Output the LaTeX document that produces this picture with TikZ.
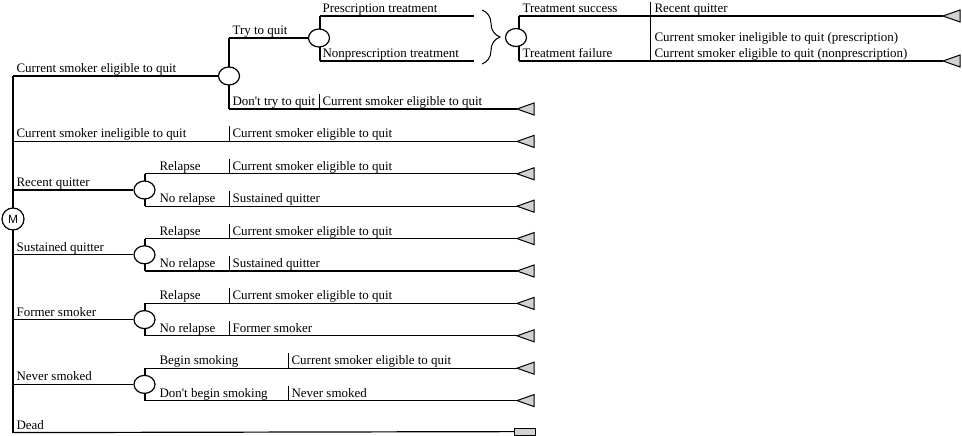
\documentclass[tikz,border=0pt]{standalone}
\usepackage{fontspec}
\setmainfont{Liberation Serif}
\newfontfamily\lblserif{Liberation Serif}
\newfontfamily\msans{Liberation Sans}
\usetikzlibrary{shapes.geometric,decorations.pathreplacing}
\definecolor{termgray}{gray}{0.82}
\newcommand\mktri[1]{\draw[termtri] (#1) -- ++(17,-6) -- ++(0,12) -- cycle;}
\begin{document}
\begin{tikzpicture}[x=1bp,y=-1bp, line width=1.2bp,
  lbl/.style={anchor=base west, inner sep=0pt, font=\lblserif\fontsize{13}{15}\selectfont},
  chance/.style={draw, fill=white, ellipse, minimum width=21bp, minimum height=18bp, inner sep=0pt},
  markov/.style={draw, fill=white, circle, minimum size=22bp, inner sep=0pt, font=\msans\fontsize{12}{14}\selectfont},
  termtri/.style={draw, line width=1bp, fill=termgray, line join=miter},
  sepline/.style={line width=1bp},
  bracestyle/.style={line width=1bp, decorate, decoration={brace, amplitude=18bp}}]
\useasboundingbox (0,0) rectangle (962,436);

% ---------- spine ----------
\coordinate (sTop) at (13,76);
\coordinate (sBot) at (13,432.6);
\draw (sTop) -- (sBot);

% ---------- row 1: current smoker eligible ----------
\coordinate (c1t) at (229,38);
\coordinate (c1b) at (229,109);
\draw (c1t) -- (c1b);
\node[chance] (c1) at (229,76) {};
\draw (sTop) -- (c1);
\node[lbl] (l1) at (16,72.5) {Current smoker eligible to quit};

% try to quit
\coordinate (c2t) at (320,16);
\coordinate (c2b) at (320,61);
\draw (c2t) -- (c2b);
\node[chance] (c2) at (319,38) {};
\draw (c1t) -- (c2);
\node[lbl] (l2) at (232,34.5) {Try to quit};
\coordinate (p1e) at (474,16);
\coordinate (p2e) at (474,61);
\draw (c2t) -- (p1e);
\draw (c2b) -- (p2e);
\node[lbl] (l3) at (322,12.5) {Prescription treatment};
\node[lbl] (l4) at (322,57.5) {Nonprescription treatment};

% brace and treatment outcome
\coordinate (br1) at (482,10);
\coordinate (br2) at (482,64);
\draw[bracestyle] (br1) -- (br2);
\coordinate (c3t) at (519,16);
\coordinate (c3b) at (519,61);
\draw (c3t) -- (c3b);
\node[chance] (c3) at (516,37.5) {};
\coordinate (t1) at (943,16);
\coordinate (t2) at (943,61);
\draw (c3t) -- (t1);
\draw (c3b) -- (t2);
\mktri{t1}
\mktri{t2}
\coordinate (s0t) at (650,2);
\coordinate (s0b) at (650,61);
\draw[sepline] (s0t) -- (s0b);
\node[lbl] (l5) at (522,12.5) {Treatment success};
\node[lbl] (l6) at (522,57.5) {Treatment failure};
\node[lbl] (l7) at (654,12.5) {Recent quitter};
\node[lbl] (l8) at (654,41.5) {Current smoker ineligible to quit (prescription)};
\node[lbl] (l9) at (654,57.5) {Current smoker eligible to quit (nonprescription)};

% don't try to quit
\coordinate (t3) at (517,109);
\draw (c1b) -- (t3);
\mktri{t3}
\coordinate (s1t) at (319,94);
\coordinate (s1b) at (319,109);
\draw[sepline] (s1t) -- (s1b);
\node[lbl] (l10) at (232,105.5) {Don't try to quit};
\node[lbl] (l11) at (322,105.5) {Current smoker eligible to quit};

% ---------- row 2: current smoker ineligible ----------
\coordinate (r2s) at (13,141.4);
\coordinate (t4) at (517,141.4);
\draw (r2s) -- (t4);
\mktri{t4}
\coordinate (s2t) at (229,126.4);
\coordinate (s2b) at (229,141.4);
\draw[sepline] (s2t) -- (s2b);
\node[lbl] (l12) at (16,137.9) {Current smoker ineligible to quit};
\node[lbl] (l13) at (232,137.9) {Current smoker eligible to quit};

% ---------- row 3: recent quitter ----------
\coordinate (r3s) at (13,190);
\coordinate (c4t) at (145,173.8);
\coordinate (c4b) at (145,206.2);
\draw (c4t) -- (c4b);
\node[chance] (c4) at (144.5,190) {};
\draw (r3s) -- (c4);
\coordinate (t5) at (517,173.8);
\coordinate (t6) at (517,206.2);
\draw (c4t) -- (t5);
\draw (c4b) -- (t6);
\mktri{t5}
\mktri{t6}
\coordinate (s3t) at (229,158.8);
\coordinate (s3b) at (229,173.8);
\coordinate (s4t) at (229,191.2);
\coordinate (s4b) at (229,206.2);
\draw[sepline] (s3t) -- (s3b);
\draw[sepline] (s4t) -- (s4b);
\node[lbl] (l14) at (16,186.5) {Recent quitter};
\node[lbl] (l15) at (159,170.3) {Relapse};
\node[lbl] (l16) at (159,202.7) {No relapse};
\node[lbl] (l17) at (232,170.3) {Current smoker eligible to quit};
\node[lbl] (l18) at (232,202.7) {Sustained quitter};

% ---------- row 4: sustained quitter ----------
\coordinate (r4s) at (13,254.8);
\coordinate (c5t) at (145,238.6);
\coordinate (c5b) at (145,271);
\draw (c5t) -- (c5b);
\node[chance] (c5) at (144.5,254.8) {};
\draw (r4s) -- (c5);
\coordinate (t7) at (517,238.6);
\coordinate (t8) at (517,271);
\draw (c5t) -- (t7);
\draw (c5b) -- (t8);
\mktri{t7}
\mktri{t8}
\coordinate (s5t) at (229,223.6);
\coordinate (s5b) at (229,238.6);
\coordinate (s6t) at (229,256);
\coordinate (s6b) at (229,271);
\draw[sepline] (s5t) -- (s5b);
\draw[sepline] (s6t) -- (s6b);
\node[lbl] (l19) at (16,251.3) {Sustained quitter};
\node[lbl] (l20) at (159,235.1) {Relapse};
\node[lbl] (l21) at (159,267.5) {No relapse};
\node[lbl] (l22) at (232,235.1) {Current smoker eligible to quit};
\node[lbl] (l23) at (232,267.5) {Sustained quitter};

% ---------- row 5: former smoker ----------
\coordinate (r5s) at (13,319.6);
\coordinate (c6t) at (145,303.4);
\coordinate (c6b) at (145,335.8);
\draw (c6t) -- (c6b);
\node[chance] (c6) at (144.5,319.6) {};
\draw (r5s) -- (c6);
\coordinate (t9) at (517,303.4);
\coordinate (t10) at (517,335.8);
\draw (c6t) -- (t9);
\draw (c6b) -- (t10);
\mktri{t9}
\mktri{t10}
\coordinate (s7t) at (229,288.4);
\coordinate (s7b) at (229,303.4);
\coordinate (s8t) at (229,320.8);
\coordinate (s8b) at (229,335.8);
\draw[sepline] (s7t) -- (s7b);
\draw[sepline] (s8t) -- (s8b);
\node[lbl] (l24) at (16,316.1) {Former smoker};
\node[lbl] (l25) at (159,299.9) {Relapse};
\node[lbl] (l26) at (159,332.3) {No relapse};
\node[lbl] (l27) at (232,299.9) {Current smoker eligible to quit};
\node[lbl] (l28) at (232,332.3) {Former smoker};

% ---------- row 6: never smoked ----------
\coordinate (r6s) at (13,384.4);
\coordinate (c7t) at (145,368.2);
\coordinate (c7b) at (145,400.6);
\draw (c7t) -- (c7b);
\node[chance] (c7) at (144.5,384.4) {};
\draw (r6s) -- (c7);
\coordinate (t11) at (517,368.2);
\coordinate (t12) at (517,400.6);
\draw (c7t) -- (t11);
\draw (c7b) -- (t12);
\mktri{t11}
\mktri{t12}
\coordinate (s9t) at (288,353.2);
\coordinate (s9b) at (288,368.2);
\coordinate (s10t) at (288,385.6);
\coordinate (s10b) at (288,400.6);
\draw[sepline] (s9t) -- (s9b);
\draw[sepline] (s10t) -- (s10b);
\node[lbl] (l29) at (16,380.9) {Never smoked};
\node[lbl] (l30) at (159,364.7) {Begin smoking};
\node[lbl] (l31) at (159,397.1) {Don't begin smoking};
\node[lbl] (l32) at (291,364.7) {Current smoker eligible to quit};
\node[lbl] (l33) at (291,397.1) {Never smoked};

% ---------- row 7: dead ----------
\node[draw, line width=1bp, fill=termgray, minimum width=21bp, minimum height=7bp, inner sep=0pt, anchor=west] (dead) at (514,431.6) {};
\draw (sBot) -- (dead);
\node[lbl] (l34) at (16,429.1) {Dead};

% ---------- Markov node ----------
\node[markov] (M) at (13,219) {M};
\end{tikzpicture}
\end{document}
